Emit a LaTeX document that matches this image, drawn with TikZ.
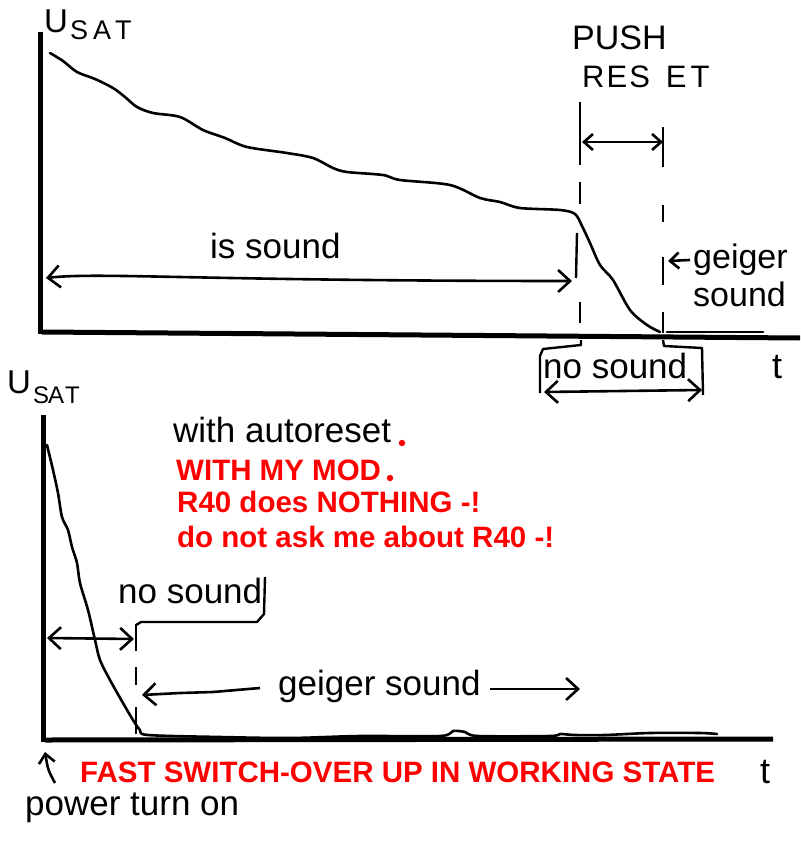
\documentclass[tikz,border=0pt]{standalone}
\usepackage{fontspec}
\setmainfont{Liberation Sans}
\usetikzlibrary{arrows.meta,positioning}
\definecolor{modred}{RGB}{255,0,0}
\tikzset{
  barb/.tip={Straight Barb[length=12pt,width=22pt]},
  minibarb/.tip={Straight Barb[length=9pt,width=16pt]},
}

\begin{document}
\begin{tikzpicture}[x=1pt, y=-1pt,
    axisline/.style={line width=5pt},
    trace/.style={line width=2.6pt, line join=round, line cap=round},
    guide/.style={line width=2.4pt, line join=round},
    span/.style={line width=2.6pt, barb-barb},
    pointer/.style={line width=2.6pt, -barb},
    tag/.style={inner sep=0pt, anchor=base west, font=\fontsize{35}{40}\selectfont},
    modnote/.style={tag, text=modred, font=\fontsize{29.5}{33}\selectfont\bfseries},
    scrawl/.style={tag, font=\fontsize{36}{38}\selectfont},
    subscrawl/.style={tag, font=\fontsize{27}{29}\selectfont}]
    \useasboundingbox (0,0) rectangle (800,850);

    % upper sketch: manual reset
    \draw[axisline] (40,32) -- (40,334);
    \draw[axisline] (42,332) -- (800,338);
    \draw[trace] plot[smooth, tension=0.5] coordinates {(50,53) (63,61) (77,72) (95,79) (113,88)
        (125,97) (137,107) (153,113) (180,117) (203,130) (225,138) (247,147) (287,153) (313,158)
        (333,168) (347,172) (383,175) (400,180) (450,185) (480,198) (500,202) (520,208) (560,210)
        (575,214) (582,226) (590,243) (600,265) (613,280) (630,310) (647,325) (660,332)};
    \draw[trace] (667,332) -- (763,332);

    \node[scrawl, font=\fontsize{33}{35}\selectfont] (u-top) at (44,33) {U};
    \node[subscrawl] (sat-top) at (70,40) {S\hspace{5pt}A\hspace{4pt}T};
    \node[scrawl, font=\fontsize{34}{36}\selectfont] (push) at (572,50) {PUSH};
    \node[subscrawl, font=\fontsize{31}{33}\selectfont] (reset) at (582,88) {R\hspace{2pt}E\hspace{2pt}S\hspace{16pt}E\hspace{4pt}T};
    \node[scrawl] (t-top) at (772,378) {t};

    % reset markers
    \foreach \ya/\yb in {102/165, 182/204, 302/323}
        \draw[guide] (580,\ya) -- (580,\yb);
    \draw[guide] (577,233) -- (576,278);
    \foreach \ya/\yb in {127/167, 205/222, 257/285, 312/333}
        \draw[guide] (663,\ya) -- (663,\yb);
    \draw[span, minibarb-minibarb] (582,142) -- (663,142);

    \node[tag] (is-sound) at (210,258) {is sound};
    \draw[span] (46,278) .. controls (100,272) and (200,281) .. (572,281);

    \node[tag, font=\fontsize{34}{38}\selectfont] (geiger-top) at (693,268) {geiger};
    \node[tag, font=\fontsize{34}{38}\selectfont] (sound-top) at (693,306) {sound};
    \draw[pointer, minibarb-] (668,261) -- (690,260);

    \node[tag] (nosound-top) at (543,378) {no sound};
    \draw[guide] (581,340) -- (581,345) -- (543,349) -- (540,356) -- (540,393);
    \draw[guide] (663,340) -- (664,346) -- (702,348) -- (703,395);
    \draw[span] (544,392) -- (702,390);

    % lower sketch: autoreset
    \draw[axisline] (43,415) -- (43,742);
    \draw[axisline] (45,740) -- (773,739);
    \draw[trace] plot[smooth, tension=0.5] coordinates {(47,445) (53,470) (58,493) (62,517)
        (68,530) (72,547) (77,563) (80,583) (88,610) (95,640) (100,660) (110,680) (123,703)
        (133,720) (140,730) (148,735) (220,737) (290,738) (360,736) (440,736) (453,731)
        (465,732) (478,736) (550,736) (560,734) (575,735) (605,735) (650,733) (700,733) (717,734)};

    \node[scrawl, font=\fontsize{33}{35}\selectfont] (u-bot) at (7,393) {U};
    \node[subscrawl, font=\fontsize{24}{26}\selectfont] (sat-bot) at (33,403) {S\hspace{-1pt}A\hspace{1pt}T};
    \node[scrawl] (t-bot) at (760,783) {t};

    \node[tag] (autoreset) at (173,442) {with autoreset};
    \fill[modred] (402,443) circle[radius=3.2pt];
    \node[modnote] (mymod) at (176,480) {WITH MY MOD};
    \fill[modred] (390,478) circle[radius=3.2pt];
    \node[modnote] (r40) at (177,512) {R40 does NOTHING -!};
    \node[modnote] (noask) at (177,547) {do not ask me about R40 -!};

    \foreach \ya/\yb in {624/651, 667/685, 707/734}
        \draw[guide] (136,\ya) -- (136,\yb);
    \node[tag] (nosound-bot) at (118,603) {no sound};
    \draw[guide] (136,625) -- (141,622) -- (257,622) -- (264,614) -- (265,577);
    \draw[span] (47,638) -- (134,639);

    \node[tag] (geiger-bot) at (278,695) {geiger sound};
    \draw[pointer] (260,688) -- (213,692) -- (180,693) -- (142,695);
    \draw[pointer] (490,689) -- (580,689);

    \node[modnote] (switchover) at (80,782) {FAST SWITCH-OVER UP IN WORKING STATE};
    \node[tag] (power) at (25,815) {power turn on};
    \draw[pointer, minibarb-] (45,752) .. controls (48,770) .. (55,783);
\end{tikzpicture}
\end{document}
